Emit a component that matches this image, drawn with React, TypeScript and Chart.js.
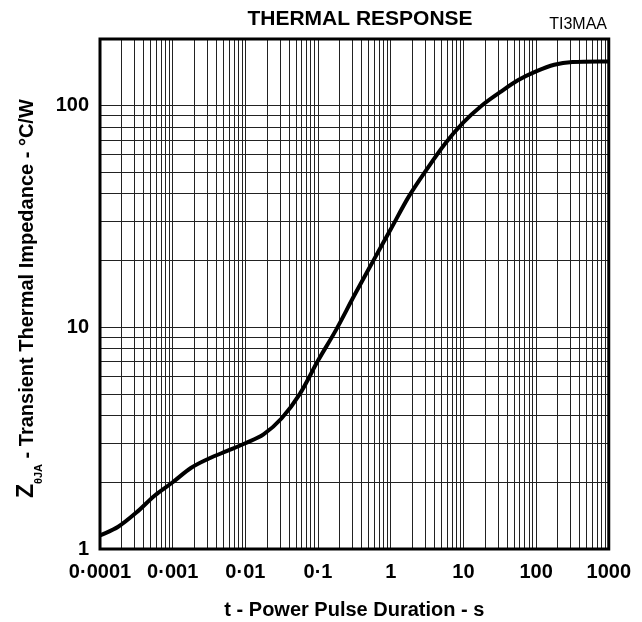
import React, { useEffect, useRef } from 'react';
import { Chart, registerables } from 'chart.js';

Chart.register(...registerables);

// ---- Data ----
const T_VALUES = [
  0.0001, 0.0001778, 0.0003162, 0.0005623, 0.001, 0.001778, 0.003162, 0.005623,
  0.01, 0.01778, 0.03162, 0.05623, 0.1, 0.1778, 0.3162, 0.5623,
  1, 1.778, 3.162, 5.623, 10, 17.78, 31.62, 56.23,
  100, 177.8, 316.2, 1000,
];
const Z_VALUES = [
  1.15, 1.26, 1.46, 1.74, 2.0, 2.32, 2.56, 2.77,
  3.0, 3.29, 3.89, 5.01, 7.08, 9.77, 13.96, 19.7,
  27.7, 39.0, 51.9, 67.6, 84.1, 100, 114.8, 130.3,
  142.9, 153.1, 157.4, 158.5,
];

const X_TICK_VALUES = [0.0001, 0.001, 0.01, 0.1, 1, 10, 100, 1000];
const X_TICK_LABELS = ['0·0001', '0·001', '0·01', '0·1', '1', '10', '100', '1000'];
const Y_TICK_VALUES = [1, 10, 100];
const Y_TICK_LABELS = ['1', '10', '100'];
const MINOR_MULTIPLIERS = [1, 2, 3, 4, 5, 6, 7, 8, 9];
const X_MIN = 0.0001;
const X_MAX = 1000;
const Y_MIN = 1;
const Y_MAX = 200;

const TITLE = 'THERMAL RESPONSE';
const CODE_LABEL = 'TI3MAA';
const X_TITLE = 't - Power Pulse Duration - s';
const Y_TITLE_MAIN = 'Z';
const Y_TITLE_SUB = 'θJA';
const Y_TITLE_REST = ' - Transient Thermal Impedance - °C/W';

const FONT_FAMILY = '"Liberation Sans", Arial, Helvetica, sans-serif';

function gridValues(decades: number[], max: number): number[] {
  const out: number[] = [];
  decades.forEach((d) => {
    MINOR_MULTIPLIERS.forEach((m) => {
      const v = d * m;
      if (v <= max * 1.000001) out.push(v);
    });
  });
  if (!out.some((v) => Math.abs(Math.log10(v) - Math.log10(max)) < 1e-6)) out.push(max);
  return out;
}

function labelFor(value: number, vals: number[], labels: string[]): string {
  const i = vals.findIndex((v) => Math.abs(Math.log10(v) - Math.log10(value)) < 1e-6);
  return i >= 0 ? labels[i] : '';
}

const decorPlugin = {
  id: 'decor',
  afterDatasetsDraw(chart: any) {
    const { ctx, chartArea } = chart;
    ctx.save();
    ctx.strokeStyle = '#000';
    ctx.lineWidth = 3;
    ctx.strokeRect(chartArea.left, chartArea.top, chartArea.right - chartArea.left, chartArea.bottom - chartArea.top);
    ctx.restore();
  },
  afterDraw(chart: any) {
    const { ctx } = chart;
    ctx.save();
    ctx.fillStyle = '#000';
    ctx.textBaseline = 'alphabetic';
    // main title
    ctx.font = `bold 21px ${FONT_FAMILY}`;
    ctx.textAlign = 'center';
    ctx.fillText(TITLE, 360, 25);
    // code label
    ctx.font = `16px ${FONT_FAMILY}`;
    ctx.textAlign = 'right';
    ctx.fillText(CODE_LABEL, 607, 28.5);
    // y title with subscript
    ctx.translate(33, 498);
    ctx.rotate(-Math.PI / 2);
    ctx.textAlign = 'left';
    ctx.font = `bold 23px ${FONT_FAMILY}`;
    ctx.fillText(Y_TITLE_MAIN, 0, 0);
    let x = ctx.measureText(Y_TITLE_MAIN).width;
    ctx.font = `bold 11px ${FONT_FAMILY}`;
    ctx.fillText(Y_TITLE_SUB, x, 9);
    x += ctx.measureText(Y_TITLE_SUB).width;
    ctx.font = `bold 20px ${FONT_FAMILY}`;
    ctx.fillText(Y_TITLE_REST, x, 0);
    ctx.restore();
  },
};

export default function App() {
  const ref = useRef<HTMLCanvasElement>(null);

  useEffect(() => {
    if (!ref.current) return;
    const xGrid = gridValues(X_TICK_VALUES.slice(0, -1), X_MAX);
    const yGrid = gridValues(Y_TICK_VALUES, Y_MAX);
    const chart = new Chart(ref.current, {
      type: 'line',
      data: {
        datasets: [
          {
            data: T_VALUES.map((t, i) => ({ x: t, y: Z_VALUES[i] })),
            borderColor: '#000',
            borderWidth: 4,
            pointRadius: 0,
            cubicInterpolationMode: 'monotone',
            fill: false,
            borderCapStyle: 'round',
            borderJoinStyle: 'round',
          },
        ],
      },
      options: {
        responsive: false,
        animation: false,
        devicePixelRatio: 1,
        layout: { padding: { top: 39, right: 31, left: 0, bottom: 0 } },
        plugins: {
          legend: { display: false },
          title: { display: false },
          tooltip: { enabled: false },
        },
        scales: {
          x: {
            type: 'logarithmic',
            min: X_MIN,
            max: X_MAX,
            afterBuildTicks: (scale: any) => {
              scale.ticks = xGrid.map((v) => ({ value: v }));
            },
            afterFit: (scale: any) => {
              scale.height = 73;
            },
            grid: { color: '#222', lineWidth: 1, drawTicks: false },
            border: { display: false },
            ticks: {
              autoSkip: false,
              maxRotation: 0,
              minRotation: 0,
              padding: 11,
              color: '#000',
              font: { family: FONT_FAMILY, size: 20, weight: 'bold' },
              callback: (_v: any, i: number, ticks: any[]) => labelFor(ticks[i].value, X_TICK_VALUES, X_TICK_LABELS),
            },
            title: {
              display: true,
              text: X_TITLE,
              color: '#000',
              font: { family: FONT_FAMILY, size: 20, weight: 'bold' },
              padding: { top: 0, bottom: 0 },
            },
          },
          y: {
            type: 'logarithmic',
            min: Y_MIN,
            max: Y_MAX,
            afterBuildTicks: (scale: any) => {
              scale.ticks = yGrid.map((v) => ({ value: v }));
            },
            afterFit: (scale: any) => {
              scale.width = 100;
            },
            grid: { color: '#222', lineWidth: 1, drawTicks: false },
            border: { display: false },
            ticks: {
              autoSkip: false,
              padding: 11,
              color: '#000',
              font: { family: FONT_FAMILY, size: 20, weight: 'bold' },
              callback: (_v: any, i: number, ticks: any[]) => labelFor(ticks[i].value, Y_TICK_VALUES, Y_TICK_LABELS),
            },
          },
        },
      },
      plugins: [decorPlugin],
    } as any);
    return () => chart.destroy();
  }, []);

  return (
    <div style={{ position: 'absolute', left: 0, top: 0, width: 642, height: 622, background: '#fff' }}>
      <canvas ref={ref} width={642} height={622} style={{ display: 'block', width: 642, height: 622 }} />
    </div>
  );
}
